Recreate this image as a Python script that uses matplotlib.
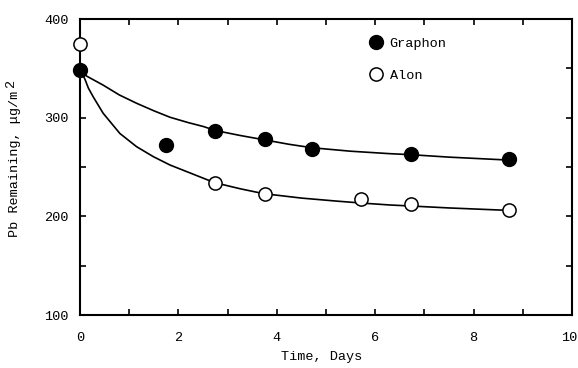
import matplotlib
matplotlib.use("Agg")
import matplotlib.pyplot as plt
from matplotlib.ticker import MultipleLocator
from matplotlib.transforms import ScaledTranslation

plt.rcParams['font.family'] = ['Liberation Mono', 'DejaVu Sans Mono']

# measured points
time_graphon = [0, 1.75, 2.75, 3.75, 4.72, 6.72, 8.72]
pb_graphon = [348, 272, 286.5, 278, 268.5, 263, 258]
time_alon = [0, 2.75, 3.75, 5.72, 6.72, 8.72]
pb_alon = [375, 234, 223, 218, 213, 206.5]

# fitted curves
curve_t_graphon = [0, 0.14, 0.47, 0.8, 1.15, 1.5, 1.83, 2.2, 2.51, 2.75,
                   3.25, 3.75, 4.25, 4.72, 5.5, 6.3, 6.72, 7.5, 8.72]
curve_pb_graphon = [348, 342, 333, 323, 314.6, 307, 300.4, 295, 291, 287,
                    282, 277.5, 273, 269.5, 266, 263.5, 262.5, 260, 257]
curve_t_alon = [0, 0.05, 0.1, 0.17, 0.27, 0.47, 0.81, 1.15, 1.49, 1.83,
                2.17, 2.64, 2.75, 3.25, 3.73, 4.5, 5.2, 5.71, 6.3, 6.71,
                7.5, 8.72]
curve_pb_alon = [348, 344, 339, 330, 321, 304.5, 284, 270.6, 260.5, 252,
                 245.3, 236, 234, 228, 223, 218.5, 215.5, 213.5, 211.5,
                 210.5, 208.5, 206]

fig = plt.figure(figsize=(5.78, 3.68), dpi=100)
ax = fig.add_axes([80/578, 53/368, 492/578, 296/368])

ax.plot(curve_t_graphon, curve_pb_graphon, color='black', lw=1.2, zorder=2)
ax.plot(curve_t_alon, curve_pb_alon, color='black', lw=1.2, zorder=2)
ax.plot(time_graphon, pb_graphon, 'o', ms=10, mfc='black', mec='black',
        clip_on=False, zorder=4, label='Graphon')
ax.plot(time_alon, pb_alon, 'o', ms=9.5, mfc='white', mec='black', mew=1.1,
        clip_on=False, zorder=4, label='Alon')

ax.set_xlim(0, 10)
ax.set_ylim(100, 400)
ax.xaxis.set_major_locator(MultipleLocator(2))
ax.xaxis.set_minor_locator(MultipleLocator(1))
ax.yaxis.set_major_locator(MultipleLocator(100))
ax.yaxis.set_minor_locator(MultipleLocator(50))
ax.tick_params(which='both', direction='in', top=True, right=True,
               length=4, width=1.2, labelsize=9.7)
ax.tick_params(axis='x', pad=12)
ax.tick_params(axis='y', pad=8)
for s in ax.spines.values():
    s.set_linewidth(1.5)

# keep the "10" label inside the figure
fig.canvas.draw()
for tick in ax.xaxis.get_major_ticks():
    if abs(tick.get_loc() - 10) < 1e-6:
        lab = tick.label1
        lab.set_transform(lab.get_transform() +
                          ScaledTranslation(-3/100, 0, fig.dpi_scale_trans))

ax.legend(loc='upper left', bbox_to_anchor=(0.588, 0.937), frameon=False,
          borderpad=0, borderaxespad=0, handlelength=1.0, handletextpad=0.5,
          labelspacing=1.45, fontsize=9.7)

fig.text(322/578, 1 - 357/368, 'Time, Days', ha='center', va='center',
         fontsize=9.7)
fig.text(15/578, 1 - 164/368, 'Pb Remaining, μg/m', ha='center',
         va='center', rotation=90, fontsize=9.7)
fig.text(11/578, 1 - 84/368, '2', ha='center', va='center', rotation=90,
         fontsize=9.7)

fig.savefig('out.png', dpi=100)
